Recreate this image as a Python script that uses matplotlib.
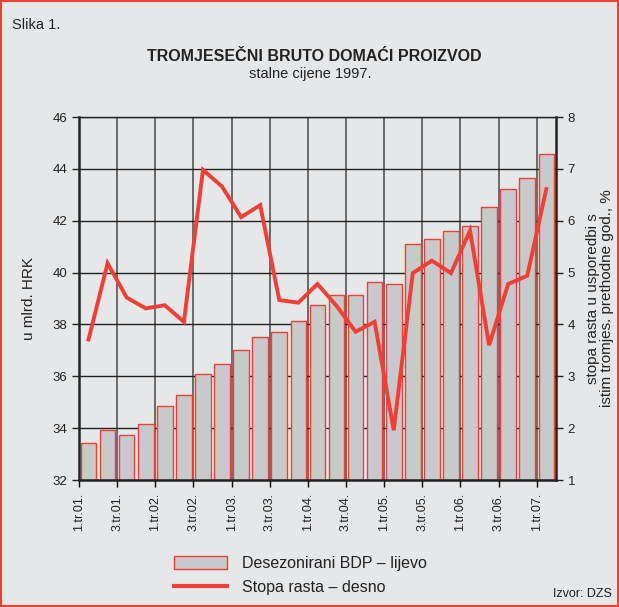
"""
Tromjesecni bruto domaci proizvod - stalne cijene 1997.
"""

import matplotlib.pyplot as plt
from matplotlib.patches import Rectangle
from matplotlib.lines import Line2D

plt.rcParams['font.family'] = ['Liberation Sans', 'DejaVu Sans']

#---------------------------------------------------------------------------------------------------
# Data
#---------------------------------------------------------------------------------------------------

# 1.tr.01. ... 1.tr.07. (25 quarters)
tick_labels = ['1.tr.01.', '3.tr.01.', '1.tr.02.', '3.tr.02.', '1.tr.03.', '3.tr.03.', '1.tr.04.',
               '3.tr.04.', '1.tr.05.', '3.tr.05.', '1.tr.06.', '3.tr.06.', '1.tr.07.']

# Desezonirani BDP, mlrd. HRK (left axis)
bdp = [33.42, 33.93, 33.72, 34.15, 34.85, 35.27, 36.08, 36.49, 37.00, 37.50, 37.71, 38.12, 38.74,
       39.13, 39.13, 39.65, 39.55, 41.09, 41.28, 41.59, 41.80, 42.52, 43.22, 43.63, 44.56]

# Stopa rasta, % (right axis)
rast = [3.71, 5.18, 4.52, 4.31, 4.37, 4.05, 6.98, 6.66, 6.07, 6.30, 4.47, 4.42, 4.78,
        4.36, 3.86, 4.05, 1.96, 4.99, 5.23, 4.99, 5.81, 3.60, 4.78, 4.94, 6.61]

bg = '#e6e7e9'
red = '#ef4035'

#---------------------------------------------------------------------------------------------------
# Plot
#---------------------------------------------------------------------------------------------------

fig = plt.figure(figsize=(6.19, 6.07), dpi=100, facecolor=bg)
ax = fig.add_axes([0.1276, 0.2092, 0.898 - 0.1276, 0.8072 - 0.2092])
ax.set_facecolor(bg)

xc = [i + 0.5 for i in range(len(bdp))]
ax.bar(xc, [b - 32 for b in bdp], bottom=32, width=0.82, color='#c8c9cb', edgecolor=red,
       linewidth=1.0, zorder=2)

ax.set_xlim(0, len(bdp))
ax.set_ylim(32, 46)
ax.set_yticks(range(32, 47, 2))
ax.set_xticks(range(0, len(bdp), 2))
ax.set_xticklabels(tick_labels, rotation=90, fontsize=9, color='#222222')
ax.tick_params(axis='y', labelsize=9.5, length=5, width=1, colors='#222222')
ax.tick_params(axis='x', length=5, width=1, pad=4)
ax.set_axisbelow(True)
ax.grid(axis='y', color='#222222', lw=1.0)
ax.grid(axis='x', color='#555555', lw=1.2)
for s in ['left', 'bottom', 'right']:
    ax.spines[s].set_linewidth(1.8)
    ax.spines[s].set_color('#222222')
ax.spines['top'].set_linewidth(1.0)
ax.spines['top'].set_color('#222222')
ax.set_ylabel('u mlrd. HRK', fontsize=11, labelpad=12, color='#222222')

ax2 = ax.twinx()
ax2.plot(xc, rast, color=red, lw=2.8, solid_joinstyle='miter', zorder=3)
ax2.set_ylim(1, 8)
ax2.set_yticks(range(1, 9))
ax2.tick_params(axis='y', labelsize=9.5, length=5, width=1, colors='#222222')
for s in ax2.spines.values():
    s.set_visible(False)
ax2.set_ylabel('stopa rasta u usporedbi s\nistim tromjes. prethodne god., %', fontsize=11,
               labelpad=8, color='#222222', linespacing=1.0)

# Titles and notes
fig.text(0.019, 0.958, 'Slika 1.', fontsize=10.5, color='#222222', va='center')
fig.text(0.508, 0.907, 'TROMJESEČNI BRUTO DOMAĆI PROIZVOD', fontsize=11.5, fontweight='bold',
         ha='center', va='center', color='#222222')
fig.text(0.502, 0.878, 'stalne cijene 1997.', fontsize=10.5, ha='center', va='center', color='#222222')
fig.text(0.988, 0.011, 'Izvor: DZS', fontsize=9, ha='right', va='bottom', color='#222222')

# Legend
leg_handles = [Rectangle((0, 0), 1, 1, facecolor='#c8c9cb', edgecolor=red, lw=1.0),
               Line2D([0], [0], color=red, lw=3)]
fig.legend(leg_handles, ['Desezonirani BDP – lijevo', 'Stopa rasta – desno'],
           loc='center left', bbox_to_anchor=(0.258, 0.052), frameon=False, fontsize=11.5,
           handlelength=3.3, handleheight=0.8, labelspacing=0.55, handletextpad=0.95,
           labelcolor='#222222')

# Figure border
fig.patches.append(Rectangle((0.002, 0.002), 0.996, 0.996, transform=fig.transFigure,
                             facecolor='none', edgecolor=red, lw=1.5))

plt.savefig('out.png', dpi=100, facecolor=bg)
